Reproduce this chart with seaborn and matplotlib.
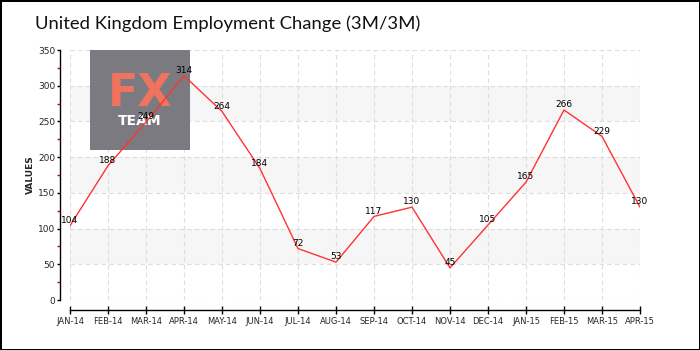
import matplotlib
matplotlib.use("Agg")
import matplotlib.pyplot as plt
import seaborn as sns
import pandas as pd
from matplotlib.patches import Rectangle
from matplotlib.ticker import MultipleLocator

months = ["JAN-14", "FEB-14", "MAR-14", "APR-14", "MAY-14", "JUN-14", "JUL-14", "AUG-14",
          "SEP-14", "OCT-14", "NOV-14", "DEC-14", "JAN-15", "FEB-15", "MAR-15", "APR-15"]
values = [104, 188, 249, 314, 264, 184, 72, 53, 117, 130, 45, 105, 165, 266, 229, 130]
title = "United Kingdom Employment Change (3M/3M)"

df = pd.DataFrame({"idx": range(len(months)), "month": months, "value": values})

sns.set_style("white")
plt.rcParams["font.family"] = ["DejaVu Sans"]

fig = plt.figure(figsize=(7, 3.5), dpi=100, linewidth=2, edgecolor="black", facecolor="white")
ax = fig.add_axes([70/700, 1 - 300/350, 570/700, 250/350])

# bands
for lo in (50, 150, 250):
    ax.axhspan(lo, lo + 50, color="#f6f6f6", zorder=0, lw=0)

# grid
ax.set_axisbelow(True)
ax.grid(True, which="major", axis="both", color="#dddddd", linestyle=(0, (4, 3)), linewidth=0.8)

# logo
ax.add_patch(Rectangle((90/700, 1 - 150/350), 100/700, 100/350, transform=fig.transFigure,
                       facecolor="#7a7a80", edgecolor="none", zorder=1.5, clip_on=False))
ax.text(140/700, 1 - 94/350, "FX", transform=fig.transFigure, color="#ef735f",
        fontsize=32, fontweight="bold", ha="center", va="center", zorder=1.6)
ax.text(140/700, 1 - 121/350, "TEAM", transform=fig.transFigure, color="white",
        fontsize=10, fontweight="bold", ha="center", va="center", zorder=1.6)

sns.lineplot(data=df, x="idx", y="value", ax=ax, color="#ff3333", linewidth=1, zorder=3)

for i, v in zip(df["idx"], df["value"]):
    ax.text(i, v + 1, str(v), ha="center", va="bottom", fontsize=6.5, color="black", zorder=4)

ax.set_xlim(0, len(months) - 1)
ax.set_ylim(0, 350)
ax.set_xticks(df["idx"])
ax.set_xticklabels(months, fontsize=6)
ax.yaxis.set_major_locator(MultipleLocator(50))
ax.yaxis.set_minor_locator(MultipleLocator(25))
ax.tick_params(axis="y", which="major", direction="out", length=2.5, width=1, color="black",
               labelsize=6.5, left=True, pad=1)
ax.tick_params(axis="y", which="minor", direction="out", length=2.5, width=1, color="#dd0000", left=True)
ax.tick_params(axis="x", which="major", direction="inout", length=6, width=1, color="black",
               labelsize=6, bottom=True, pad=2)
ax.set_xlabel("")
ax.set_ylabel("VALUES", fontsize=6.5, fontweight="bold", labelpad=2)

for s in ("top", "right"):
    ax.spines[s].set_visible(False)
ax.spines["left"].set_position(("outward", 7.2))
ax.spines["bottom"].set_position(("outward", 7.2))
for s in ("left", "bottom"):
    ax.spines[s].set_color("black")
    ax.spines[s].set_linewidth(1)

fig.text(35/700, 1 - 24/350, title, fontsize=13.3, family=["Lato", "DejaVu Sans"],
         fontweight="normal", ha="left", va="center", color="#111111")

fig.savefig("out.png", dpi=100, edgecolor=fig.get_edgecolor(), facecolor="white")
